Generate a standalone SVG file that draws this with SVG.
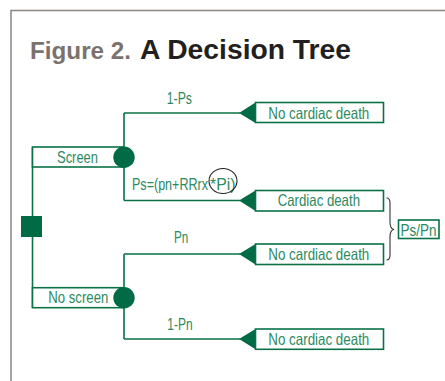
<svg xmlns="http://www.w3.org/2000/svg" width="445" height="381" viewBox="0 0 445 381">
<style>
.frame{fill:none;stroke:#8c8580;stroke-width:1.5}
.ln{fill:none;stroke:#0b7248;stroke-width:1.6}
.box{fill:#fff;stroke:#0b7248;stroke-width:1.6}
.nd{fill:#006b45}
.t{font-family:"Liberation Sans Narrow","Liberation Sans",Arial,sans-serif;font-size:16.5px;fill:#2c8a60}
.brace{fill:none;stroke:#333;stroke-width:1.1}
</style>
<rect width="445" height="381" fill="#fff"/>
<path class="frame" d="M11 381V10.5H445"/>
<text x="30" y="58.5" font-family="Liberation Sans,Arial,sans-serif" font-weight="bold" font-size="23" fill="#7b726d" textLength="101" lengthAdjust="spacingAndGlyphs">Figure 2.</text>
<text x="140" y="58.5" font-family="Liberation Sans,Arial,sans-serif" font-weight="bold" font-size="28" fill="#231f20" textLength="211" lengthAdjust="spacingAndGlyphs">A Decision Tree</text>
<g id="connectors">
<path class="ln" d="M32.5 147V308"/>
<path class="ln" d="M124 113V200.5M124 113H240M124 200.5H240"/>
<path class="ln" d="M124 254V339M124 254H240M124 339H240"/>
</g>
<g id="decision">
<rect class="nd" x="21" y="216" width="21" height="21"/>
</g>
<g id="screen">
<rect class="box" x="32.5" y="147" width="91" height="20"/>
<text class="t" x="57" y="162.7" textLength="41" lengthAdjust="spacingAndGlyphs">Screen</text>
<circle class="nd" cx="124" cy="157.3" r="10.7"/>
</g>
<g id="noscreen">
<rect class="box" x="32.5" y="287.7" width="91" height="20"/>
<text class="t" x="48.3" y="303.3" textLength="60" lengthAdjust="spacingAndGlyphs">No screen</text>
<circle class="nd" cx="124" cy="297.7" r="10.7"/>
</g>
<g id="labels">
<text class="t" x="166.7" y="103.5" textLength="25.3" lengthAdjust="spacingAndGlyphs">1-Ps</text>
<text class="t" y="189.5"><tspan x="132" textLength="76" lengthAdjust="spacingAndGlyphs">Ps=(pn+RRrx</tspan><tspan x="210" textLength="25.5" lengthAdjust="spacingAndGlyphs">*Pi)</tspan></text>
<ellipse cx="223" cy="181" rx="14" ry="12.5" fill="none" stroke="#222" stroke-width="1.1"/>
<text class="t" x="174" y="242.7" textLength="14.3" lengthAdjust="spacingAndGlyphs">Pn</text>
<text class="t" x="167.3" y="330" textLength="25.3" lengthAdjust="spacingAndGlyphs">1-Pn</text>
</g>
<g id="out1">
<path class="nd" d="M239 113L255.5 102.5V123Z"/>
<rect class="box" x="255.5" y="102.5" width="128" height="20"/>
<text class="t" x="268.3" y="118.7" textLength="101" lengthAdjust="spacingAndGlyphs">No cardiac death</text>
</g>
<g id="out2">
<path class="nd" d="M239 200.5L255.5 190.5V211Z"/>
<rect class="box" x="255.5" y="190.5" width="128" height="20.5"/>
<text class="t" x="277.7" y="206" textLength="82.3" lengthAdjust="spacingAndGlyphs">Cardiac death</text>
</g>
<g id="out3">
<path class="nd" d="M239 254L255.5 244V264.5Z"/>
<rect class="box" x="255.5" y="244" width="128" height="20.5"/>
<text class="t" x="268.3" y="260" textLength="101" lengthAdjust="spacingAndGlyphs">No cardiac death</text>
</g>
<g id="out4">
<path class="nd" d="M239 339L255.5 329V349.3Z"/>
<rect class="box" x="255.5" y="329" width="128" height="20.3"/>
<text class="t" x="268.3" y="345" textLength="101" lengthAdjust="spacingAndGlyphs">No cardiac death</text>
</g>
<g id="ratio">
<path class="brace" d="M386.5 198Q390 198 390 203V222Q390 229 394 229.5Q390 230 390 237V255Q390 260 386.5 260"/>
<rect class="box" x="398.5" y="220" width="40.5" height="18.5"/>
<text class="t" x="400.5" y="235.5" textLength="36" lengthAdjust="spacingAndGlyphs">Ps/Pn</text>
</g>
</svg>
